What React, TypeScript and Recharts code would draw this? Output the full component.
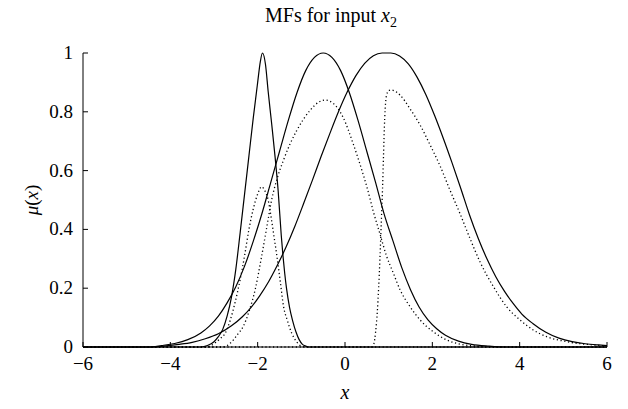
import React from "react";
import { LineChart, Line, XAxis, YAxis } from "recharts";

const FONT = '"Liberation Serif", "Times New Roman", serif';

// axis ticks
const xTicks = [-6, -4, -2, 0, 2, 4, 6];
const yTicks = [0, 0.2, 0.4, 0.6, 0.8, 1];

// upper MF of the narrow set (solid), peak near -1.9
const upperNarrowX = [-6, -3.3, -3.15, -3.0, -2.9, -2.8, -2.7, -2.6, -2.5, -2.4, -2.3, -2.2, -2.1, -2.0, -1.94, -1.89, -1.82, -1.76, -1.68, -1.6, -1.53, -1.46, -1.42, -1.38, -1.34, -1.27, -1.2, -1.12, -1.05, -0.98, -0.9, -0.82, 6];
const upperNarrowY = [0, 0, 0.005, 0.018, 0.035, 0.06, 0.105, 0.17, 0.265, 0.39, 0.52, 0.65, 0.78, 0.9, 0.97, 1.0, 0.96, 0.87, 0.76, 0.645, 0.53, 0.38, 0.31, 0.25, 0.2, 0.135, 0.09, 0.05, 0.025, 0.01, 0.003, 0, 0];

// lower MF of the narrow set (dotted)
const lowerNarrowX = [-6, -3.2, -2.98, -2.85, -2.75, -2.63, -2.52, -2.4, -2.3, -2.2, -2.1, -2.0, -1.91, -1.83, -1.76, -1.68, -1.62, -1.56, -1.48, -1.41, -1.32, -1.22, -1.11, -1.0, -0.9, 6];
const lowerNarrowY = [0, 0, 0.013, 0.03, 0.045, 0.09, 0.15, 0.23, 0.31, 0.4, 0.47, 0.52, 0.545, 0.53, 0.5, 0.43, 0.37, 0.31, 0.22, 0.14, 0.09, 0.047, 0.018, 0.003, 0, 0];

// upper MF of the middle set (solid), peak near -0.5
const upperMidX = [-6, -4.5, -4.2, -3.9, -3.6, -3.3, -3.1, -2.9, -2.7, -2.5, -2.3, -2.1, -1.9, -1.7, -1.5, -1.3, -1.1, -0.9, -0.7, -0.5, -0.3, -0.1, 0.1, 0.3, 0.5, 0.7, 0.9, 1.1, 1.3, 1.5, 1.7, 1.9, 2.1, 2.3, 2.6, 2.9, 3.3, 3.7, 6];
const upperMidY = [0, 0, 0.005, 0.012, 0.025, 0.048, 0.072, 0.105, 0.15, 0.205, 0.275, 0.36, 0.455, 0.56, 0.665, 0.77, 0.865, 0.94, 0.985, 1.0, 0.985, 0.94, 0.865, 0.77, 0.665, 0.56, 0.45, 0.36, 0.27, 0.195, 0.135, 0.092, 0.062, 0.04, 0.02, 0.009, 0.003, 0, 0];

// lower MF of the middle set (dotted)
const lowerMidX = [-6, -2.8, -2.65, -2.55, -2.45, -2.33, -2.2, -2.05, -1.92, -1.8, -1.68, -1.55, -1.41, -1.26, -1.11, -0.95, -0.8, -0.6, -0.46, -0.27, -0.04, 0.19, 0.42, 0.5, 0.65, 0.8, 0.95, 1.11, 1.26, 1.49, 1.72, 2.02, 2.33, 2.63, 3.0, 3.3, 6];
const lowerMidY = [0, 0, 0.01, 0.025, 0.045, 0.07, 0.12, 0.2, 0.3, 0.4, 0.5, 0.575, 0.635, 0.69, 0.735, 0.775, 0.805, 0.833, 0.84, 0.829, 0.78, 0.69, 0.585, 0.545, 0.46, 0.385, 0.31, 0.25, 0.195, 0.137, 0.092, 0.052, 0.024, 0.01, 0.003, 0, 0];

// upper MF of the wide set (solid), flat top near 0.85..1.05
const upperWideX = [-6, -4.5, -4.1, -3.8, -3.5, -3.2, -2.9, -2.6, -2.35, -2.15, -1.95, -1.75, -1.55, -1.35, -1.15, -0.95, -0.75, -0.55, -0.35, -0.15, 0.05, 0.25, 0.45, 0.65, 0.85, 1.05, 1.25, 1.45, 1.65, 1.85, 2.05, 2.25, 2.45, 2.65, 2.85, 3.05, 3.25, 3.45, 3.65, 3.85, 4.05, 4.3, 4.6, 4.9, 5.2, 5.5, 5.8, 6];
const upperWideY = [0, 0, 0.004, 0.009, 0.016, 0.028, 0.045, 0.072, 0.103, 0.135, 0.175, 0.222, 0.278, 0.34, 0.41, 0.487, 0.566, 0.647, 0.725, 0.8, 0.867, 0.923, 0.965, 0.991, 1.0, 1.0, 0.99, 0.963, 0.918, 0.859, 0.788, 0.71, 0.627, 0.54, 0.45, 0.37, 0.3, 0.24, 0.19, 0.148, 0.112, 0.08, 0.05, 0.03, 0.018, 0.011, 0.007, 0.005];

// lower MF of the wide set (dotted)
const lowerWideX = [-6, 0.62, 0.66, 0.7, 0.74, 0.77, 0.8, 0.83, 0.86, 0.88, 0.9, 0.92, 0.95, 1.0, 1.05, 1.12, 1.26, 1.49, 1.72, 1.95, 2.18, 2.4, 2.63, 2.86, 3.09, 3.4, 3.7, 4.01, 4.31, 4.62, 5.08, 5.69, 6];
const lowerWideY = [0, 0, 0.01, 0.05, 0.12, 0.2, 0.3, 0.42, 0.54, 0.64, 0.74, 0.81, 0.855, 0.872, 0.874, 0.872, 0.857, 0.81, 0.755, 0.687, 0.615, 0.535, 0.455, 0.37, 0.29, 0.205, 0.137, 0.092, 0.058, 0.035, 0.018, 0.007, 0.004];

const toPoints = (xs: number[], ys: number[]) => xs.map((x, i) => ({ x, y: ys[i] }));

const series = [
  { name: "upperNarrow", data: toPoints(upperNarrowX, upperNarrowY), dotted: false },
  { name: "lowerNarrow", data: toPoints(lowerNarrowX, lowerNarrowY), dotted: true },
  { name: "upperMid", data: toPoints(upperMidX, upperMidY), dotted: false },
  { name: "lowerMid", data: toPoints(lowerMidX, lowerMidY), dotted: true },
  { name: "upperWide", data: toPoints(upperWideX, upperWideY), dotted: false },
  { name: "lowerWide", data: toPoints(lowerWideX, lowerWideY), dotted: true },
];

const minus = (v: number) => (v < 0 ? "\u2212" + Math.abs(v) : String(v));
const fmtY = (v: number) => (v === 0 || v === 1 ? String(v) : v.toFixed(1));

function XTick(props: any) {
  const { x, y, payload } = props;
  return (
    <g>
      <line x1={x} y1={y} x2={x} y2={y - 5} stroke="#000" strokeWidth={1} />
      <text x={x} y={y + 23} textAnchor="middle" fontSize={19} fontFamily={FONT} fill="#000">
        {minus(payload.value)}
      </text>
    </g>
  );
}

function YTick(props: any) {
  const { x, y, payload } = props;
  return (
    <g>
      <line x1={x} y1={y} x2={x + 5} y2={y} stroke="#000" strokeWidth={1} />
      <text x={x - 10} y={y + 6} textAnchor="end" fontSize={19} fontFamily={FONT} fill="#000">
        {fmtY(payload.value)}
      </text>
    </g>
  );
}

export default function App() {
  return (
    <div style={{ position: "absolute", left: 0, top: 0, width: 628, height: 409, background: "#fff", fontFamily: FONT }}>
      <LineChart width={628} height={409} margin={{ top: 53, right: 21, left: 0, bottom: 0 }}>
        <XAxis
          dataKey="x"
          type="number"
          domain={[-6, 6]}
          ticks={xTicks}
          allowDataOverflow
          height={62}
          tickLine={false}
          tickSize={0}
          tickMargin={0}
          axisLine={{ stroke: "#000", strokeWidth: 1 }}
          tick={<XTick />}
        />
        <YAxis
          type="number"
          domain={[0, 1]}
          ticks={yTicks}
          width={83}
          tickLine={false}
          tickSize={0}
          tickMargin={0}
          axisLine={{ stroke: "#000", strokeWidth: 1 }}
          tick={<YTick />}
        />
        {series.map((s) => (
          <Line
            key={s.name}
            data={s.data}
            dataKey="y"
            type="monotone"
            stroke="#000"
            strokeWidth={s.dotted ? 1.3 : 1.2}
            strokeDasharray={s.dotted ? "1.2 2.6" : undefined}
            dot={false}
            activeDot={false}
            isAnimationActive={false}
          />
        ))}
      </LineChart>
      <div style={{ position: "absolute", left: 0, width: 662, top: 4, textAlign: "center", fontSize: 20, color: "#000" }}>
        MFs for input <i>x</i>
        <sub style={{ fontSize: 14 }}>2</sub>
      </div>
      <div
        style={{
          position: "absolute",
          left: 32,
          top: 200,
          transform: "translate(-50%, -50%) rotate(-90deg)",
          fontSize: 19,
          whiteSpace: "nowrap",
          color: "#000",
        }}
      >
        <i>μ</i>(<i>x</i>)
      </div>
      <div style={{ position: "absolute", left: 345, top: 392, transform: "translate(-50%, -50%)", fontSize: 20, color: "#000" }}>
        <i>x</i>
      </div>
    </div>
  );
}
